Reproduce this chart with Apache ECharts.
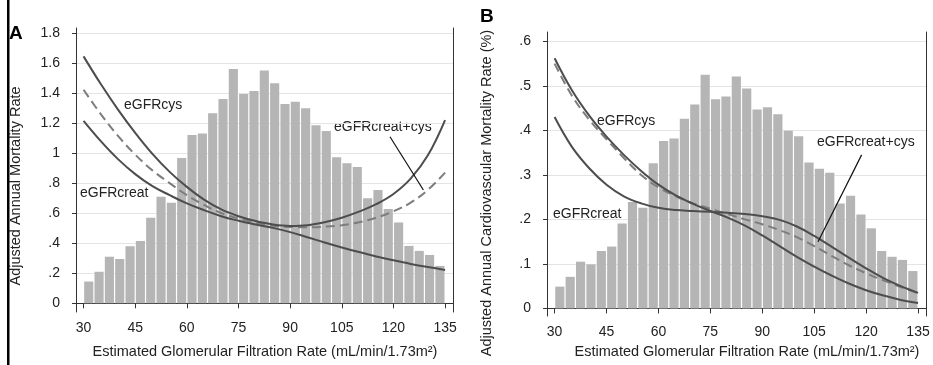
<!DOCTYPE html>
<html>
<head>
<meta charset="utf-8">
<script src="https://cdn.jsdelivr.net/npm/echarts@6/dist/echarts.min.js"></script>
<style>
  html, body { margin: 0; padding: 0; background: #fff; }
  #chart { width: 933px; height: 365px; }
</style>
</head>
<body>
<div id="chart"></div>
<script>
// tick labels
const xTicks = [30, 45, 60, 75, 90, 105, 120, 135];
const yTicksA = [0, 0.2, 0.4, 0.6, 0.8, 1, 1.2, 1.4, 1.6, 1.8];
const yTicksB = [0, 0.1, 0.2, 0.3, 0.4, 0.5, 0.6];

// histogram bins (eGFR, left edge of each 3-unit bin)
const binStarts = [30, 33, 36, 39, 42, 45, 48, 51, 54, 57, 60, 63, 66, 69, 72, 75, 78, 81, 84, 87,
                   90, 93, 96, 99, 102, 105, 108, 111, 114, 117, 120, 123, 126, 129, 132];
const binWidth = 3;
const histA = [0.145, 0.21, 0.31, 0.295, 0.38, 0.415, 0.57, 0.71, 0.67, 0.967, 1.12, 1.13, 1.265, 1.36, 1.56,
               1.393, 1.413, 1.55, 1.465, 1.327, 1.342, 1.298, 1.185, 1.147, 0.973, 0.933, 0.907, 0.70,
               0.755, 0.627, 0.538, 0.382, 0.349, 0.322, 0.249];
const histB = [0.049, 0.071, 0.105, 0.099, 0.129, 0.139, 0.191, 0.239, 0.226, 0.326, 0.376, 0.382, 0.426, 0.458,
               0.525, 0.470, 0.476, 0.521, 0.494, 0.447, 0.452, 0.436, 0.399, 0.387, 0.328, 0.314, 0.305,
               0.236, 0.253, 0.211, 0.180, 0.129, 0.116, 0.109, 0.084];

// fitted curves
const curveX = [30, 35, 40, 45, 50, 55, 60, 65, 70, 75, 80, 85, 90, 95, 100, 105, 110, 115, 120, 125, 130, 135];
const cysA   = [1.644, 1.46, 1.29, 1.135, 0.995, 0.875, 0.775, 0.69, 0.625, 0.58, 0.548, 0.525, 0.515, 0.52,
                0.54, 0.57, 0.61, 0.66, 0.728, 0.83, 0.985, 1.22];
const bothA  = [1.422, 1.26, 1.115, 0.99, 0.885, 0.80, 0.72, 0.655, 0.60, 0.565, 0.537, 0.517, 0.508, 0.506,
                0.51, 0.52, 0.54, 0.57, 0.613, 0.67, 0.755, 0.87];
const creatA = [1.215, 1.08, 0.96, 0.86, 0.78, 0.72, 0.665, 0.62, 0.58, 0.55, 0.525, 0.502, 0.474, 0.44,
                0.405, 0.372, 0.341, 0.312, 0.286, 0.262, 0.241, 0.222];
const cysB   = [0.562, 0.49, 0.433, 0.386, 0.345, 0.309, 0.278, 0.254, 0.235, 0.219, 0.204, 0.186, 0.164, 0.14,
                0.116, 0.094, 0.074, 0.056, 0.041, 0.029, 0.019, 0.012];
const bothB  = [0.55, 0.478, 0.424, 0.38, 0.338, 0.30, 0.272, 0.252, 0.236, 0.224, 0.212, 0.2, 0.189, 0.176,
                0.16, 0.14, 0.118, 0.097, 0.079, 0.063, 0.048, 0.034];
const creatB = [0.43, 0.363, 0.315, 0.278, 0.252, 0.236, 0.226, 0.221, 0.219, 0.217, 0.215, 0.212, 0.207, 0.199,
                0.184, 0.163, 0.139, 0.114, 0.09, 0.068, 0.05, 0.035];

// arrow for the eGFRcreat+cys label (axis values)
const arrowA = [[119.0, 1.109], [128.7, 0.754]];
const arrowB = [[118.7, 0.345], [106.1, 0.150]];

const FONT = '"Liberation Sans", Arial, Helvetica, sans-serif';
const AXIS_COLOR = '#333';
const TEXT_COLOR = '#222';

let chart = echarts.init(document.getElementById('chart'), null, {renderer: 'canvas'});

function zip(xs, ys) {
    return xs.map((x, i) => [x, ys[i]]);
}

function noLeadZero(v) {
    return String(v).replace(/^0\./, '.');
}

function xAxisFor(gridIndex) {
    return {
        type: 'value', gridIndex: gridIndex, min: 27.8, max: 137.3,
        axisLine: {lineStyle: {color: AXIS_COLOR, width: 1}},
        axisTick: {customValues: xTicks, length: 5, lineStyle: {color: AXIS_COLOR}},
        axisLabel: {customValues: xTicks, margin: 9, fontSize: 14, fontFamily: FONT, color: TEXT_COLOR},
        splitLine: {show: false}
    };
}

function yAxisFor(gridIndex, min, max, ticks) {
    return {
        type: 'value', gridIndex: gridIndex, min: min, max: max,
        axisLine: {show: true, lineStyle: {color: AXIS_COLOR, width: 1}},
        axisTick: {show: true, customValues: ticks, length: 4, lineStyle: {color: AXIS_COLOR}},
        axisLabel: {customValues: ticks, margin: 16, fontSize: 14, fontFamily: FONT, color: TEXT_COLOR,
                    formatter: noLeadZero},
        splitLine: {show: true, lineStyle: {color: '#e4e4e4', width: 1}}
    };
}

function frameAxis(gridIndex, min, max) {
    return {
        type: 'value', gridIndex: gridIndex, position: 'right', min: min, max: max,
        axisLine: {show: true, lineStyle: {color: AXIS_COLOR, width: 1}},
        axisTick: {show: false}, axisLabel: {show: false}, splitLine: {show: false}
    };
}

function histSeries(axisIdx, values) {
    return {
        type: 'custom', xAxisIndex: axisIdx, yAxisIndex: axisIdx * 2,
        data: zip(binStarts, values),
        encode: {x: 0, y: 1},
        renderItem: function (params, api) {
            let x0 = api.value(0);
            let top = api.coord([x0, api.value(1)]);
            let bottom = api.coord([x0 + binWidth, 0]);
            return {
                type: 'rect',
                shape: {x: top[0] + 0.6, y: top[1], width: bottom[0] - top[0] - 1.2, height: bottom[1] - top[1]},
                style: {fill: '#b5b5b5'}
            };
        },
        z: 2
    };
}

function curveSeries(axisIdx, ys, dashed, arrow) {
    let s = {
        type: 'line', xAxisIndex: axisIdx, yAxisIndex: axisIdx * 2,
        data: zip(curveX, ys),
        smooth: 0.4, symbol: 'none', silent: true,
        lineStyle: dashed ? {color: '#7d7d7d', width: 2, type: [9, 5]} : {color: '#4d4d4d', width: 2},
        z: 3
    };
    if (arrow) {
        s.markLine = {
            silent: true, symbol: ['none', 'arrow'], symbolSize: [0, 9],
            label: {show: false},
            lineStyle: {color: '#111', width: 1.2, type: 'solid'},
            data: [[{coord: arrow[0]}, {coord: arrow[1]}]],
            animation: false
        };
    }
    return s;
}

function text(x, y, str, opts) {
    return Object.assign({
        type: 'text', x: x, y: y, silent: true,
        style: Object.assign({
            text: str, font: '14px ' + FONT, fill: TEXT_COLOR, align: 'left', verticalAlign: 'middle'
        }, (opts && opts.style) || {})
    }, (opts && opts.el) || {});
}

const xTitle = 'Estimated Glomerular Filtration Rate (mL/min/1.73m\u00B2)';
const TITLE_FONT = '14.5px ' + FONT;

let option = {
    animation: false,
    backgroundColor: '#fff',
    grid: [
        {left: 76, top: 28, width: 377, height: 284},
        {left: 547, top: 32, width: 379, height: 284}
    ],
    xAxis: [xAxisFor(0), xAxisFor(1)],
    yAxis: [
        yAxisFor(0, -0.058, 1.833, yTicksA),
        frameAxis(0, -0.058, 1.833),
        yAxisFor(1, -0.017, 0.621, yTicksB),
        frameAxis(1, -0.017, 0.621)
    ],
    series: [
        histSeries(0, histA),
        curveSeries(0, bothA, true, arrowA),
        curveSeries(0, cysA, false),
        curveSeries(0, creatA, false),
        histSeries(1, histB),
        curveSeries(1, bothB, true, arrowB),
        curveSeries(1, cysB, false),
        curveSeries(1, creatB, false)
    ],
    graphic: [
        {type: 'rect', shape: {x: 7, y: 0, width: 2.5, height: 365}, style: {fill: '#000'}, silent: true},
        text(9, 34, 'A', {style: {font: 'bold 19px ' + FONT, fill: '#000'}}),
        text(480, 17, 'B', {style: {font: 'bold 19px ' + FONT, fill: '#000'}}),
        // axis titles
        text(16, 186, 'Adjusted Annual Mortality Rate',
             {style: {align: 'center', font: TITLE_FONT}, el: {rotation: Math.PI / 2}}),
        text(487, 193, 'Adjusted Annual Cardiovascular Mortality Rate (%)',
             {style: {align: 'center', font: TITLE_FONT}, el: {rotation: Math.PI / 2}}),
        text(265, 352, xTitle, {style: {align: 'center', font: TITLE_FONT}}),
        text(747, 352, xTitle, {style: {align: 'center', font: TITLE_FONT}}),
        // curve labels
        text(124, 105, 'eGFRcys'),
        text(80, 193, 'eGFRcreat'),
        text(334, 127, 'eGFRcreat+cys'),
        text(597, 121, 'eGFRcys'),
        text(553, 214, 'eGFRcreat'),
        text(817, 142, 'eGFRcreat+cys')
    ]
};

chart.setOption(option);
</script>
</body>
</html>
